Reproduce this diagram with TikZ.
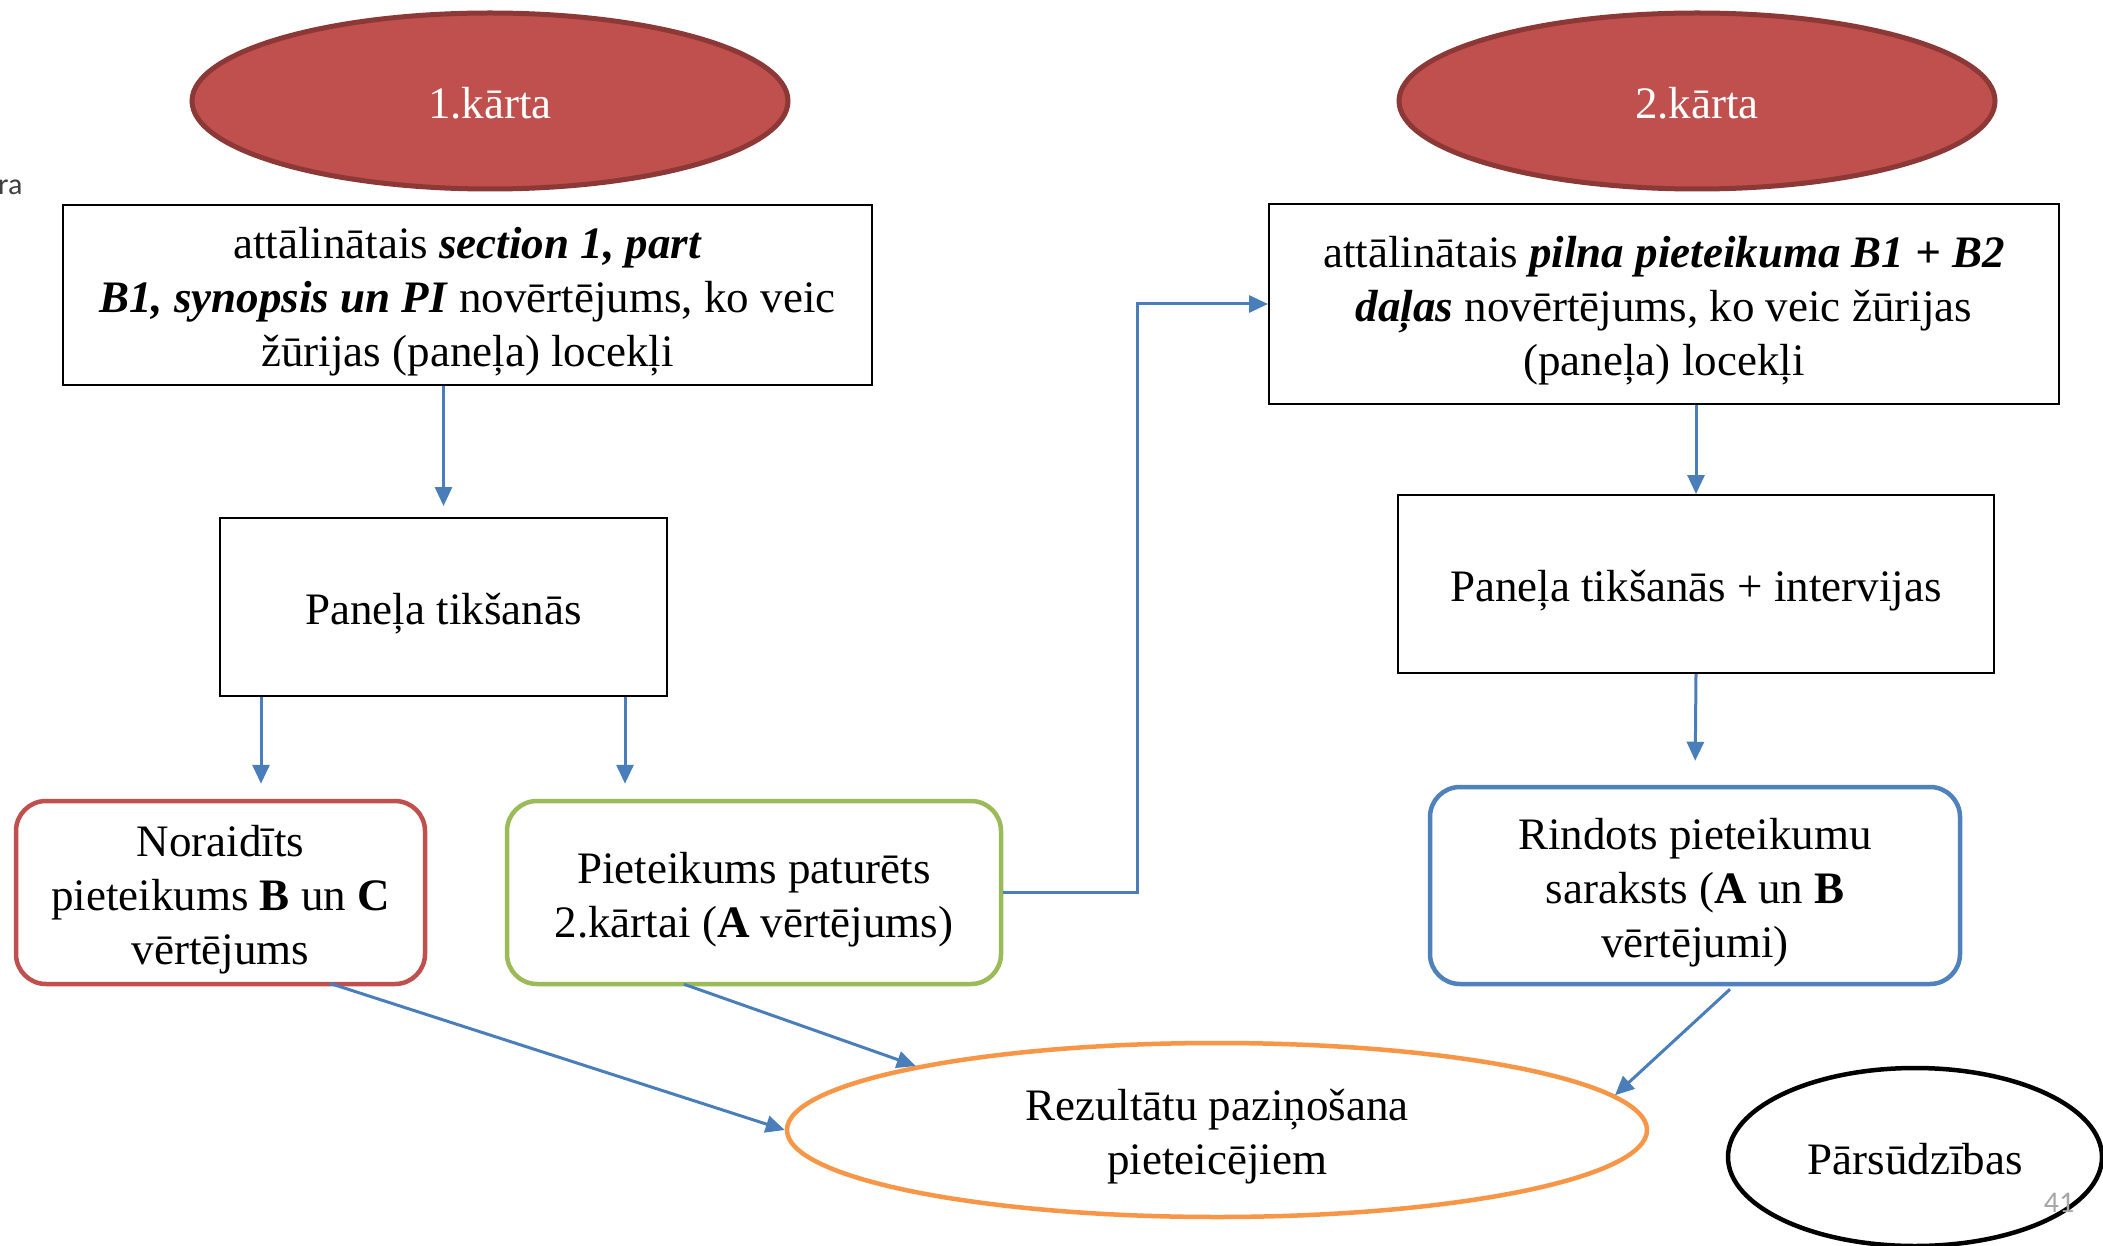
\documentclass[tikz,border=0pt]{standalone}
\usepackage{fontspec}
\setmainfont{Liberation Serif}
\newfontfamily\carl{Carlito}
\usetikzlibrary{arrows.meta,shapes.geometric,calc}
\definecolor{redfill}{HTML}{C0504D}
\definecolor{redline}{HTML}{8C3836}
\definecolor{grn}{HTML}{9BBB59}
\definecolor{blu}{HTML}{4F81BD}
\definecolor{org}{HTML}{F79646}
\definecolor{arrc}{HTML}{4A7EBB}
\newcommand{\sttop}{\rule{0pt}{45pt}}
\newcommand{\stbot}{\rule[-10pt]{0pt}{10pt}}
\newcommand{\bigtxt}{\fontsize{45}{54}\selectfont\lineskiplimit=-100pt\relax}
\begin{document}
\begin{tikzpicture}[x=1pt,y=-1pt,
  txt/.style={font=\bigtxt, align=center, inner sep=0pt},
  titleell/.style={txt, ellipse, fill=redfill, draw=redline, line width=5pt, text=white, minimum width=596pt, minimum height=176pt},
  plainbox/.style={txt, rectangle, draw=black, line width=2pt},
  rbox/.style={txt, rectangle, rounded corners=30pt, line width=4.5pt, fill=white},
  arr/.style={draw=arrc, line width=3pt, -{Triangle[length=19pt,width=17pt]}},
  smallnote/.style={font=\carl\fontsize{30}{36}\selectfont, inner sep=0pt}
]
\clip (0,0) rectangle (2103,1246);
\fill[white] (0,0) rectangle (2103,1246);

\node[smallnote, text=black!75, anchor=west] (ra) at (-2,187) {ra};

\node[titleell] (e1) at (490,101) {\sttop 1.kārta\stbot};
\node[titleell] (e2) at (1697,101) {\sttop 2.kārta\stbot};

\node[plainbox, minimum width=809pt, minimum height=180pt] (b1) at (467.5,295)
  {\sttop attālinātais \textbf{\textit{section 1, part}}\\
   \textbf{\textit{B1, synopsis un PI}} novērtējums, ko veic\\
   žūrijas (paneļa) locekļi\stbot};
\node[plainbox, minimum width=447pt, minimum height=178pt] (b2) at (443.5,607) {\sttop Paneļa tikšanās\stbot};

\node[plainbox, minimum width=790pt, minimum height=200pt] (b3) at (1664,304)
  {\sttop attālinātais \textbf{\textit{pilna pieteikuma B1 + B2}}\\
   \textbf{\textit{daļas}} novērtējums, ko veic žūrijas\\
   (paneļa) locekļi\stbot};
\node[plainbox, minimum width=596pt, minimum height=178pt] (b4) at (1696,584) {\sttop Paneļa tikšanās + intervijas\stbot};

\node[rbox, draw=redfill, minimum width=409pt, minimum height=183pt] (rd) at (220.5,892.5)
  {\sttop Noraidīts\\ pieteikums \textbf{B} un \textbf{C}\\ vērtējums\stbot};
\node[rbox, draw=grn, minimum width=494pt, minimum height=183pt] (gr) at (754,892.5)
  {\sttop Pieteikums paturēts\\ 2.kārtai (\textbf{A} vērtējums)\stbot};
\node[rbox, draw=blu, minimum width=530pt, minimum height=197pt] (bl) at (1695,885.5)
  {\sttop Rindots pieteikumu\\ saraksts (\textbf{A} un \textbf{B}\\ vērtējumi)\stbot};

\node[txt, ellipse, draw=org, line width=4.5pt, minimum width=860pt, minimum height=174pt] (or) at (1217,1130)
  {\sttop Rezultātu paziņošana\\ pieteicējiem\stbot};
\node[txt, ellipse, draw=black, line width=4.5pt, minimum width=374pt, minimum height=178pt] (pa) at (1915,1157) {\sttop Pārsūdzības\stbot};

\node[smallnote, text=black!35] (pg) at (2059,1203) {41};

% connector end points
\coordinate (p1) at ($(b2.south west)+(42,0)$);
\coordinate (p2) at ($(b2.south east)+(-43,0)$);
\coordinate (p3) at ($(rd.south)+(109,-3)$);
\coordinate (p4) at ($(gr.south)+(-70,-2)$);
\coordinate (p5) at ($(bl.south)+(35,3)$);

% connectors
\draw[arr, shorten >=11pt] (b1.south -| b2.north) -- (b2.north);
\draw[arr, shorten >=15pt] (p1) -- (p1 |- rd.north);
\draw[arr, shorten >=15pt] (p2) -- (p2 |- gr.north);
\draw[arr] (gr.east) -- ++(134,0) |- (b3.west);
\draw[arr] (b3.south -| b4.north) -- (b4.north);
\draw[arr, shorten >=24pt] (b4.south) -- (bl.north);
\draw[arr] (p3) -- (or.west);
\draw[arr] (p4) -- (or.168.7);
\draw[arr] (p5) -- (or.5);
\end{tikzpicture}
\end{document}
